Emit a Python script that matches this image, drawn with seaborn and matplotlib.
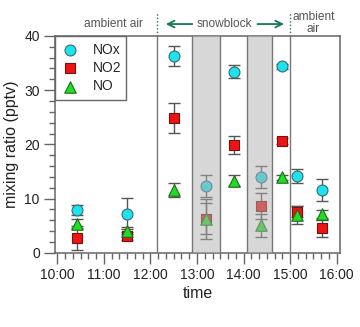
import numpy as np
import pandas as pd
import matplotlib
matplotlib.use("Agg")
import matplotlib.pyplot as plt
import matplotlib.transforms as mtransforms
from matplotlib.ticker import FixedLocator, MultipleLocator, FuncFormatter
import seaborn as sns

# Sampling times (HH:MM) and mixing ratios (pptv) with their uncertainties
times = ["10:25", "11:30", "12:30", "13:12", "13:48", "14:22", "14:49", "15:09", "15:41"]
nox = [7.9, 7.2, 36.3, 12.3, 33.4, 14.0, 34.4, 14.1, 11.6]
nox_err = [0.9, 2.9, 1.8, 2.1, 1.2, 2.1, 0.5, 1.3, 2.0]
no2 = [2.7, 3.1, 24.9, 6.2, 19.9, 8.7, 20.6, 7.6, 4.5]
no2_err = [2.2, 0.8, 2.8, 3.7, 1.6, 2.4, 0.6, 1.0, 1.5]
no = [5.4, 4.1, 11.5, 6.3, 13.3, 5.1, 13.9, 7.0, 7.2]
no_err = [0.8, 0.7, 1.3, 2.9, 1.0, 2.1, 0.4, 1.6, 0.7]

# Phases of the experiment
phase_bounds = ["12:08", "15:00"]
shaded = [("12:53", "13:30"), ("14:05", "14:37")]
hour_ticks = ["10:00", "11:00", "12:00", "13:00", "14:00", "15:00", "16:00"]


def to_hours(t):
    h, m = t.split(":")
    return int(h) + int(m) / 60.0


hours = [to_hours(t) for t in times]
df = pd.concat([
    pd.DataFrame({"hour": hours, "value": nox, "err": nox_err, "species": "NOx"}),
    pd.DataFrame({"hour": hours, "value": no2, "err": no2_err, "species": "NO2"}),
    pd.DataFrame({"hour": hours, "value": no, "err": no_err, "species": "NO"}),
], ignore_index=True)

sns.set_theme(style="ticks")
plt.rcParams["font.family"] = ["Liberation Sans", "DejaVu Sans"]

fig = plt.figure(figsize=(3.6, 3.27), dpi=100)
ax = fig.add_axes([0.153, 0.227, 0.791, 0.663])

styles = {
    "NOx": dict(marker="o", color="#1de3ee", edge="#3a6a70", s=62),
    "NO2": dict(marker="s", color="#ee1414", edge="#7a1010", s=50),
    "NO": dict(marker="^", color="#22dd22", edge="#1a6a1a", s=68),
}

for sp, st in styles.items():
    sub = df[df["species"] == sp]
    ax.errorbar(sub["hour"], sub["value"], yerr=sub["err"], fmt="none",
                ecolor="#555555", elinewidth=1.0, capsize=4, capthick=1.0, zorder=2)
    sns.scatterplot(data=sub, x="hour", y="value", marker=st["marker"], color=st["color"],
                    edgecolor=st["edge"], linewidth=0.8, s=st["s"], label=sp, ax=ax, zorder=3)

# Snow-block periods
for a, b in shaded:
    xa, xb = to_hours(a), to_hours(b)
    ax.axvspan(xa, xb, color="#b0b0b0", alpha=0.5, lw=0, zorder=4)
    for x in (xa, xb):
        ax.axvline(x, color="#777777", lw=1.0, zorder=5)
for t in phase_bounds:
    ax.axvline(to_hours(t), color="#777777", lw=1.0, zorder=5)

ax.set_xlim(9.95, 16.07)
ax.set_ylim(0, 40)

ax.xaxis.set_major_locator(FixedLocator([to_hours(t) for t in hour_ticks]))
ax.xaxis.set_major_formatter(FuncFormatter(lambda v, p: f"{int(round(v))}:00"))
ax.xaxis.set_minor_locator(MultipleLocator(1 / 6))
ax.yaxis.set_major_locator(MultipleLocator(10))
ax.yaxis.set_minor_locator(MultipleLocator(2))

for s in ax.spines.values():
    s.set_color("#666666")
    s.set_linewidth(1.1)
ax.tick_params(which="major", length=8, width=1.0, color="#666666", labelsize=10,
               labelcolor="#222222", pad=3)
ax.tick_params(which="minor", length=4, width=1.0, color="#666666")

ax.set_xlabel("time", fontsize=11.5, color="#222222", labelpad=3)
ax.set_ylabel("mixing ratio (pptv)", fontsize=11.5, color="#222222", labelpad=4)

leg = ax.legend(loc="upper left", bbox_to_anchor=(0.0, 1.0, 0.25, 0.0), mode="expand",
                fontsize=10, frameon=True, fancybox=False,
                borderaxespad=0.0, handletextpad=1.0, labelspacing=0.3,
                borderpad=0.5, handlelength=1.2)
leg.get_frame().set_edgecolor("#666666")
leg.get_frame().set_linewidth(1.0)
leg.get_frame().set_alpha(1)
leg.set_zorder(6)

# Phase annotations above the plot
trans = mtransforms.blended_transform_factory(ax.transData, ax.transAxes)
teal = "#16765c"
ax.text(11.2, 1.055, "ambient air", transform=trans, ha="center", va="center",
        fontsize=8.6, color="#555555", clip_on=False)
ax.text(13.6, 1.055, "snowblock", transform=trans, ha="center", va="center",
        fontsize=8.6, color="#555555", clip_on=False)
ax.text(15.5, 1.06, "ambient\nair", transform=trans, ha="center", va="center",
        fontsize=8.6, color="#555555", linespacing=0.95, clip_on=False)
for t in phase_bounds:
    x = to_hours(t)
    ax.plot([x, x], [1.0, 1.11], transform=trans, color=teal, lw=1.0, ls=(0, (1, 1.5)),
            clip_on=False)
ax.annotate("", xy=(12.27, 1.055), xytext=(12.96, 1.055), xycoords=trans, textcoords=trans,
            arrowprops=dict(arrowstyle="->", color=teal, lw=1.3), annotation_clip=False)
ax.annotate("", xy=(14.93, 1.055), xytext=(14.24, 1.055), xycoords=trans, textcoords=trans,
            arrowprops=dict(arrowstyle="->", color=teal, lw=1.3), annotation_clip=False)

fig.savefig("out.png", dpi=100)
